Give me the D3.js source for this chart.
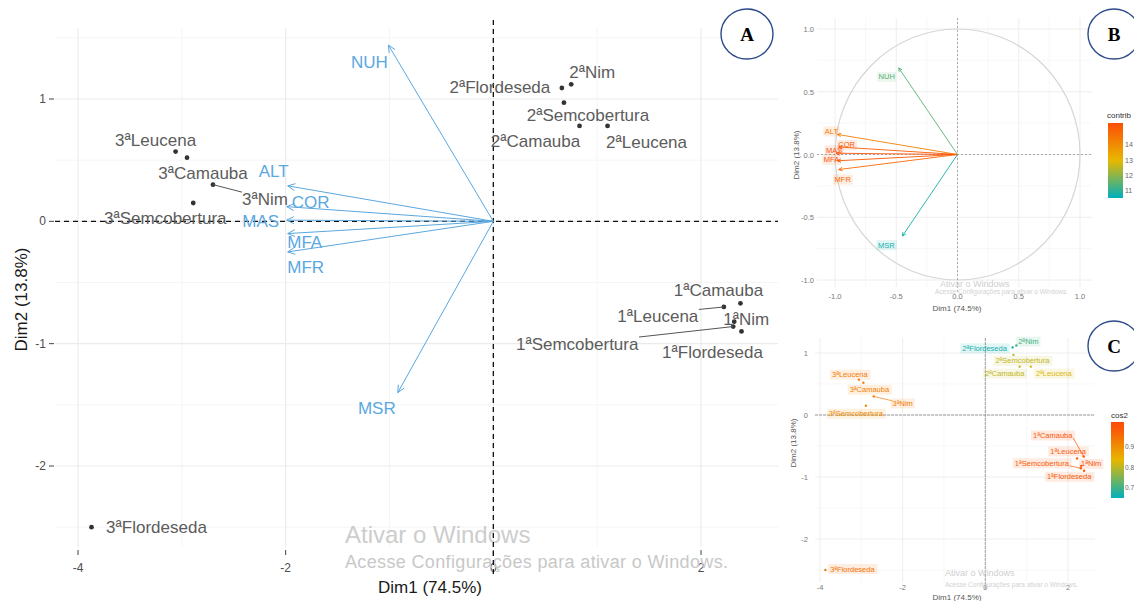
<!DOCTYPE html>
<html><head><meta charset="utf-8">
<script src="https://cdn.jsdelivr.net/npm/d3@7"></script>
<style>body{margin:0;background:#fff}svg{display:block;font-family:"Liberation Sans",Arial,sans-serif}</style>
</head><body><svg id="c" width="1134" height="601"></svg>
<script>
// ---------------- DATA ----------------
const indNames = ["1ªCamauba","1ªLeucena","1ªNim","1ªSemcobertura","1ªFlordeseda","2ªFlordeseda","2ªNim","2ªSemcobertura","2ªCamauba","2ªLeucena","3ªLeucena","3ªCamauba","3ªNim","3ªSemcobertura","3ªFlordeseda"];
const indDim1 = [2.38, 2.22, 2.32, 2.31, 2.39, 0.66, 0.75, 0.68, 0.83, 1.10, -3.06, -2.95, -2.70, -2.89, -3.87];
const indDim2 = [-0.67, -0.70, -0.82, -0.86, -0.90, 1.09, 1.12, 0.97, 0.78, 0.78, 0.57, 0.52, 0.30, 0.15, -2.50];
const indCos2 = [0.99, 0.98, 0.99, 0.98, 0.98, 0.66, 0.70, 0.80, 0.80, 0.82, 0.93, 0.92, 0.93, 0.90, 0.94];
const varNames = ["NUH","ALT","COR","MAS","MFA","MFR","MSR"];
const varBiplot1 = [-1.01, -1.98, -1.99, -1.99, -1.98, -1.98, -0.92];
const varBiplot2 = [1.44, 0.29, 0.12, 0.01, -0.10, -0.25, -1.40];
const varCor1 = [-0.48, -0.98, -0.97, -0.99, -0.98, -0.97, -0.45];
const varCor2 = [0.69, 0.16, 0.06, 0.01, -0.05, -0.12, -0.65];
const varContrib = [11.4, 14.3, 15.1, 15.3, 15.2, 14.8, 10.7];
const dimTitles = ["Dim1 (74.5%)", "Dim2 (13.8%)"];
const ticksA_x = [-4, -2, 0, 2], ticksA_y = [-2, -1, 0, 1];
const ticksB = [-1.0, -0.5, 0.0, 0.5, 1.0];
const contribLegendTicks = [14, 13, 12, 11];
const cos2LegendTicks = [0.9, 0.8, 0.7];
const panelLetters = ["A", "B", "C"];
const watermark = ["Ativar o Windows", "Acesse Configurações para ativar o Windows."];

// ------------- LAYOUT (label offsets in px) -------------
const indLabOffA = [[-22,-13],[-66,10],[12,-2],[-156,18],[-29,21],[-62,0],[21,-12],[24,13],[-44,16],[39,17],[-20,-11],[16,16],[52,15],[-28,16],[65,0]];
const indSegA = [false,true,false,true,false,false,false,false,false,false,false,false,true,false,false];
const varLabOffA = [[-19,17],[-14,-14],[24,-4],[-26,1],[17,9],[18,16],[-21,16]];
const indLabOffC = [[-31,-21],[-9,-7],[10,-2],[-39,-5],[-15,6],[-28,1],[12,-4],[9,6],[-15,7],[23,7],[-9,-5],[6,7],[29,7],[-10,8],[27,-1]];
const indSegC = [true,false,false,true,false,false,true,false,false,false,false,false,true,false,false];
const varLabOffB = [[-12,9],[-6,-3],[8,-2],[-2,-3],[-6,-1],[4,10],[-16,9]];

const svg = d3.select("#c");
const grad3 = ["#00AFBB", "#E7B800", "#FC4E07"];

function grid(g, x, y, xs, ys, b, col, w) {
  g.selectAll(null).data(xs).join("line")
    .attr("x1", d => x(d)).attr("x2", d => x(d)).attr("y1", b.t).attr("y2", b.b)
    .attr("stroke", col).attr("stroke-width", w);
  g.selectAll(null).data(ys).join("line")
    .attr("y1", d => y(d)).attr("y2", d => y(d)).attr("x1", b.l).attr("x2", b.r)
    .attr("stroke", col).attr("stroke-width", w);
}
function arrow(g, x0, y0, x1, y1, col, len, sw) {
  g.append("line").attr("x1", x0).attr("y1", y0).attr("x2", x1).attr("y2", y1)
    .attr("stroke", col).attr("stroke-width", sw);
  const a = Math.atan2(y1 - y0, x1 - x0), s = 0.45;
  g.append("path").attr("d",
    `M${x1 - len*Math.cos(a - s)},${y1 - len*Math.sin(a - s)}L${x1},${y1}L${x1 - len*Math.cos(a + s)},${y1 - len*Math.sin(a + s)}`)
    .attr("fill", "none").attr("stroke", col).attr("stroke-width", sw);
}
function segToBox(g, px, py, t, col, sw, minD) {
  const bb = t.node().getBBox();
  const cx = Math.max(bb.x, Math.min(px, bb.x + bb.width));
  const cy = Math.max(bb.y + 2, Math.min(py, bb.y + bb.height - 2));
  if (Math.hypot(cx - px, cy - py) > minD)
    g.append("line").attr("x1", px).attr("y1", py).attr("x2", cx).attr("y2", cy)
      .attr("stroke", col).attr("stroke-width", sw);
}

// ================= PANEL A =================
(function () {
  const g = svg.append("g");
  const x = d3.scaleLinear().domain([-4, 2]).range([78, 701]);
  const y = d3.scaleLinear().domain([1, -2]).range([99, 466]);
  const b = { l: 55, r: 778, t: 28, b: 547 };
  grid(g, x, y, [-3, -1, 1], [-2.5, -1.5, -0.5, 0.5, 1.5], b, "#f2f2f2", 0.8);
  grid(g, x, y, ticksA_x, ticksA_y, b, "#ebebeb", 1.1);
  g.selectAll(null).data(ticksA_x).join("line").attr("x1", d => x(d)).attr("x2", d => x(d))
    .attr("y1", b.b + 3).attr("y2", b.b + 8).attr("stroke", "#444").attr("stroke-width", 1);
  g.selectAll(null).data(ticksA_x).join("text").attr("x", d => x(d)).attr("y", b.b + 25)
    .attr("text-anchor", "middle").attr("font-size", 12).attr("fill", "#4d4d4d").text(d => d);
  g.selectAll(null).data(ticksA_y).join("line").attr("y1", d => y(d)).attr("y2", d => y(d))
    .attr("x1", b.l - 6).attr("x2", b.l - 1).attr("stroke", "#444").attr("stroke-width", 1);
  g.selectAll(null).data(ticksA_y).join("text").attr("x", b.l - 9).attr("y", d => y(d) + 4)
    .attr("text-anchor", "end").attr("font-size", 12).attr("fill", "#4d4d4d").text(d => d);
  g.append("text").attr("x", 430).attr("y", 593).attr("text-anchor", "middle")
    .attr("font-size", 17).attr("fill", "#1a1a1a").text(dimTitles[0]);
  g.append("text").attr("transform", `translate(27,${(b.t + b.b) / 2 + 12}) rotate(-90)`)
    .attr("text-anchor", "middle").attr("font-size", 17).attr("fill", "#1a1a1a").text(dimTitles[1]);
  // watermark
  g.append("text").attr("x", 345).attr("y", 543).attr("font-size", 24).attr("fill", "#cdcdcd").text(watermark[0]);
  g.append("text").attr("x", 345).attr("y", 568).attr("font-size", 18).attr("fill", "#c8c8c8")
    .attr("textLength", 383).text(watermark[1]);
  // zero lines
  g.append("line").attr("x1", b.l).attr("x2", b.r).attr("y1", y(0)).attr("y2", y(0))
    .attr("stroke", "#111").attr("stroke-width", 1.3).attr("stroke-dasharray", "5,4");
  g.append("line").attr("x1", x(0)).attr("x2", x(0)).attr("y1", b.t - 8).attr("y2", b.b + 30)
    .attr("stroke", "#111").attr("stroke-width", 1.3).attr("stroke-dasharray", "5,4");
  // variables
  const vcol = "#5aa8df";
  varNames.forEach((n, i) => {
    arrow(g, x(0), y(0), x(varBiplot1[i]), y(varBiplot2[i]), vcol, 8, 1);
  });
  varNames.forEach((n, i) => {
    g.append("text").attr("x", x(varBiplot1[i]) + varLabOffA[i][0]).attr("y", y(varBiplot2[i]) + varLabOffA[i][1])
      .attr("text-anchor", "middle").attr("dominant-baseline", "central")
      .attr("font-size", 17).attr("fill", vcol).text(n);
  });
  // individuals
  const icol = "#5c5c5c";
  indNames.forEach((n, i) => {
    const px = x(indDim1[i]), py = y(indDim2[i]);
    g.append("circle").attr("cx", px).attr("cy", py).attr("r", 2.4).attr("fill", "#333");
    const t = g.append("text").attr("x", px + indLabOffA[i][0]).attr("y", py + indLabOffA[i][1])
      .attr("text-anchor", "middle").attr("dominant-baseline", "central")
      .attr("font-size", 17).attr("fill", icol).text(n);
    if (indSegA[i]) segToBox(g, px, py, t, "#555", 1, 4);
  });
})();

// ================= PANEL B =================
(function () {
  const g = svg.append("g");
  const x = d3.scaleLinear().domain([-1, 1]).range([835, 1080]);
  const y = d3.scaleLinear().domain([1, -1]).range([29, 280]);
  const b = { l: 817, r: 1092, t: 18, b: 287 };
  grid(g, x, y, [-0.75, -0.25, 0.25, 0.75], [-0.75, -0.25, 0.25, 0.75], b, "#f4f4f4", 0.6);
  grid(g, x, y, ticksB, ticksB, b, "#ececec", 0.9);
  g.selectAll(null).data(ticksB).join("text").attr("x", d => x(d)).attr("y", 299)
    .attr("text-anchor", "middle").attr("font-size", 7.5).attr("fill", "#777").text(d => d.toFixed(1));
  g.selectAll(null).data(ticksB).join("text").attr("x", 814).attr("y", d => y(d) + 3)
    .attr("text-anchor", "end").attr("font-size", 7.5).attr("fill", "#777").text(d => d.toFixed(1));
  g.append("text").attr("x", 957).attr("y", 311).attr("text-anchor", "middle")
    .attr("font-size", 8).attr("fill", "#555").text(dimTitles[0]);
  g.append("text").attr("transform", `translate(799,155) rotate(-90)`)
    .attr("text-anchor", "middle").attr("font-size", 8).attr("fill", "#555").text(dimTitles[1]);
  g.append("ellipse").attr("cx", x(0)).attr("cy", y(0)).attr("rx", x(1) - x(0)).attr("ry", y(-1) - y(0))
    .attr("fill", "none").attr("stroke", "#d6d6d6").attr("stroke-width", 1.2);
  g.append("line").attr("x1", b.l).attr("x2", b.r).attr("y1", y(0)).attr("y2", y(0))
    .attr("stroke", "#9a9a9a").attr("stroke-width", 0.8).attr("stroke-dasharray", "2,2");
  g.append("line").attr("x1", x(0)).attr("x2", x(0)).attr("y1", b.t).attr("y2", b.b + 6)
    .attr("stroke", "#9a9a9a").attr("stroke-width", 0.8).attr("stroke-dasharray", "2,2");
  g.append("text").attr("x", 940).attr("y", 287).attr("font-size", 9).attr("fill", "#cfcfcf").text(watermark[0]);
  g.append("text").attr("x", 935).attr("y", 294).attr("font-size", 6.5).attr("fill", "#d2d2d2").text(watermark[1]);
  const col = d3.scaleLinear().domain([10.5, 12.95, 15.4]).range(grad3);
  varNames.forEach((n, i) => {
    arrow(g, x(0), y(0), x(varCor1[i]), y(varCor2[i]), col(varContrib[i]), 4, 0.9);
  });
  varNames.forEach((n, i) => {
    const tx = x(varCor1[i]) + varLabOffB[i][0], ty = y(varCor2[i]) + varLabOffB[i][1];
    const t = g.append("text").attr("x", tx).attr("y", ty).attr("text-anchor", "middle")
      .attr("dominant-baseline", "central").attr("font-size", 7.5).attr("fill", col(varContrib[i])).text(n);
    const bb = t.node().getBBox();
    g.insert("rect", () => t.node()).attr("x", bb.x - 1.5).attr("y", bb.y - 0.5).attr("width", bb.width + 3)
      .attr("height", bb.height + 1).attr("fill", col(varContrib[i])).attr("fill-opacity", 0.12);
  });
  const lg = d3.scaleLinear().domain([15.4, 10.5]).range([123, 198]);
  const defs = svg.append("defs");
  const gr = defs.append("linearGradient").attr("id", "gB").attr("x1", 0).attr("x2", 0).attr("y1", 0).attr("y2", 1);
  d3.range(0, 1.001, 0.1).forEach(f => gr.append("stop").attr("offset", f).attr("stop-color", col(15.4 - f * 4.9)));
  g.append("text").attr("x", 1107).attr("y", 118).attr("font-size", 8).attr("fill", "#333").text("contrib");
  g.append("rect").attr("x", 1108).attr("y", lg(15.4)).attr("width", 15).attr("height", lg(10.5) - lg(15.4)).attr("fill", "url(#gB)");
  g.selectAll(null).data(contribLegendTicks).join("text").attr("x", 1125).attr("y", d => lg(d) + 3)
    .attr("font-size", 7).attr("fill", "#666").text(d => d);
})();

// ================= PANEL C =================
(function () {
  const g = svg.append("g");
  const x = d3.scaleLinear().domain([-4, 2]).range([820, 1068]);
  const y = d3.scaleLinear().domain([1, -2]).range([353, 539]);
  const b = { l: 815, r: 1095, t: 338, b: 582 };
  grid(g, x, y, [-3, -1, 1], [-2.5, -1.5, -0.5, 0.5], b, "#f4f4f4", 0.6);
  grid(g, x, y, ticksA_x, ticksA_y, b, "#ececec", 0.9);
  g.selectAll(null).data(ticksA_x).join("text").attr("x", d => x(d)).attr("y", 590)
    .attr("text-anchor", "middle").attr("font-size", 7.5).attr("fill", "#777").text(d => d);
  g.selectAll(null).data(ticksA_y).join("text").attr("x", 808).attr("y", d => y(d) + 3)
    .attr("text-anchor", "end").attr("font-size", 7.5).attr("fill", "#777").text(d => d);
  g.append("text").attr("x", 957).attr("y", 600).attr("text-anchor", "middle")
    .attr("font-size", 8).attr("fill", "#555").text(dimTitles[0]);
  g.append("text").attr("transform", `translate(796,443) rotate(-90)`)
    .attr("text-anchor", "middle").attr("font-size", 8).attr("fill", "#555").text(dimTitles[1]);
  g.append("line").attr("x1", b.l).attr("x2", b.r).attr("y1", y(0)).attr("y2", y(0))
    .attr("stroke", "#888").attr("stroke-width", 0.8).attr("stroke-dasharray", "3,1");
  g.append("line").attr("x1", x(0)).attr("x2", x(0)).attr("y1", b.t).attr("y2", b.b + 8)
    .attr("stroke", "#888").attr("stroke-width", 0.8).attr("stroke-dasharray", "3,1");
  g.append("text").attr("x", 945).attr("y", 576).attr("font-size", 9).attr("fill", "#cfcfcf").text(watermark[0]);
  g.append("text").attr("x", 945).attr("y", 587).attr("font-size", 6.5).attr("fill", "#d2d2d2").text(watermark[1]);
  const col = d3.scaleLinear().domain([0.645, 0.83, 1.0]).range(grad3);
  indNames.forEach((n, i) => {
    const px = x(indDim1[i]), py = y(indDim2[i]);
    g.append("circle").attr("cx", px).attr("cy", py).attr("r", 1.2).attr("fill", col(indCos2[i]));
    const t = g.append("text").attr("x", px + indLabOffC[i][0]).attr("y", py + indLabOffC[i][1])
      .attr("text-anchor", "middle").attr("dominant-baseline", "central")
      .attr("font-size", 7.5).attr("fill", col(indCos2[i])).text(n);
    const bb = t.node().getBBox();
    g.insert("rect", () => t.node()).attr("x", bb.x - 2).attr("y", bb.y - 0.5).attr("width", bb.width + 4)
      .attr("height", bb.height + 1).attr("fill", col(indCos2[i])).attr("fill-opacity", 0.12);
    if (indSegC[i]) segToBox(g, px, py, t, col(indCos2[i]), 0.7, 3);
  });
  const lg = d3.scaleLinear().domain([1.02, 0.645]).range([422, 498]);
  const defs = svg.append("defs");
  const gr = defs.append("linearGradient").attr("id", "gC").attr("x1", 0).attr("x2", 0).attr("y1", 0).attr("y2", 1);
  d3.range(0, 1.001, 0.1).forEach(f => gr.append("stop").attr("offset", f).attr("stop-color", col(Math.min(1, 1.02 - f * 0.375))));
  g.append("text").attr("x", 1111).attr("y", 418).attr("font-size", 8).attr("fill", "#333").text("cos2");
  g.append("rect").attr("x", 1111).attr("y", 422).attr("width", 13).attr("height", 76).attr("fill", "url(#gC)");
  g.selectAll(null).data(cos2LegendTicks).join("text").attr("x", 1125).attr("y", d => lg(d) + 3)
    .attr("font-size", 6.5).attr("fill", "#666").text(d => d);
})();

// ================= PANEL LETTERS =================
const letterPos = [[747, 34], [1114, 34], [1114, 346]];
panelLetters.forEach((L, i) => {
  const [cx, cy] = letterPos[i];
  svg.append("ellipse").attr("cx", cx).attr("cy", cy).attr("rx", 26).attr("ry", 25)
    .attr("fill", "#fff").attr("stroke", "#2c4a8c").attr("stroke-width", 1.4);
  svg.append("text").attr("x", cx).attr("y", cy + 7).attr("text-anchor", "middle")
    .attr("font-family", "'Liberation Serif','Times New Roman',serif").attr("font-weight", "bold")
    .attr("font-size", 19).attr("fill", "#000").text(L);
});
</script></body></html>
